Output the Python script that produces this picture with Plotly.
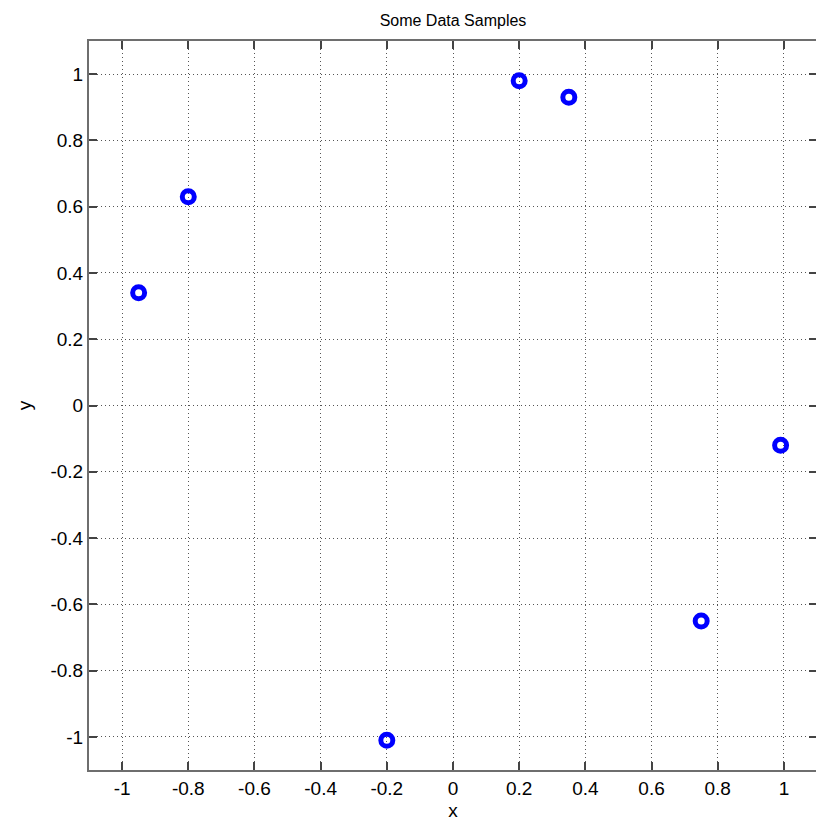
import plotly.graph_objects as go

x_vals = [-0.95, -0.8, -0.2, 0.2, 0.35, 0.75, 0.99]
y_vals = [0.34, 0.63, -1.01, 0.98, 0.93, -0.65, -0.12]

x_ticks = [-1, -0.8, -0.6, -0.4, -0.2, 0, 0.2, 0.4, 0.6, 0.8, 1]
y_ticks = [-1, -0.8, -0.6, -0.4, -0.2, 0, 0.2, 0.4, 0.6, 0.8, 1]
tick_text = ["-1", "-0.8", "-0.6", "-0.4", "-0.2", "0", "0.2", "0.4", "0.6", "0.8", "1"]

FONT = "Liberation Sans, Arial, sans-serif"
AXC = "#6e6e6e"

fig = go.Figure()
fig.add_trace(go.Scatter(
    x=x_vals, y=y_vals, mode="markers",
    marker=dict(symbol="circle-open", size=12, color="#0000ff",
                line=dict(width=5, color="#0000ff")),
    showlegend=False,
))

axis_common = dict(
    showline=True, linecolor=AXC, linewidth=2, mirror="ticks",
    ticks="inside", ticklen=8, tickwidth=1.5, tickcolor="#444",
    showgrid=True, gridcolor="#555", griddash="1px,3px", gridwidth=1,
    zeroline=False, tickfont=dict(family=FONT, size=19, color="#000"),
)

fig.update_xaxes(range=[-1.1, 1.1], tickvals=x_ticks, ticktext=tick_text,
                 title=dict(text="x", font=dict(family=FONT, size=19, color="#000"), standoff=11),
                 **axis_common)
fig.update_yaxes(range=[-1.1, 1.1], tickvals=y_ticks, ticktext=tick_text,
                 title=dict(text="y", font=dict(family=FONT, size=19, color="#000"), standoff=14),
                 **axis_common)

fig.update_layout(
    width=830, height=821,
    margin=dict(l=89, r=13, t=41, b=51, autoexpand=False),
    paper_bgcolor="white", plot_bgcolor="white",
    title=dict(text="Some Data Samples", x=(89 + 364) / 830, xanchor="center",
               y=1 - 20 / 821, yanchor="middle",
               font=dict(family=FONT, size=16, color="#000")),
)

fig.write_html("out.html", config={"displayModeBar": False},
               post_script="document.body.style.margin='0';document.body.style.overflow='hidden';")
